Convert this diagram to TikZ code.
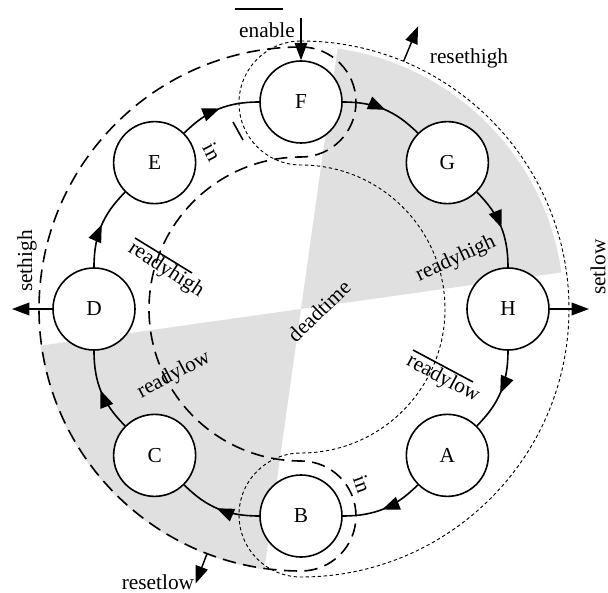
\documentclass[tikz,border=0pt]{standalone}
\usepackage{fontspec}
\setmainfont{Liberation Serif}
\usetikzlibrary{arrows.meta,decorations.markings}
\definecolor{panelgray}{gray}{0.88}
\tikzset{
  state/.style={circle, draw, fill=white, line width=1.2pt, minimum size=61.5pt,
    inner sep=0pt, font=\fontsize{16}{19}\selectfont},
  trans/.style={line width=1.2pt, bend left=22.5, postaction={decorate},
    decoration={markings, mark=at position 0.52 with {\arrow{Triangle[length=13pt,width=10pt]}}}},
  longdash/.style={line width=1.2pt, dash pattern=on 10pt off 5.5pt},
  shortdash/.style={line width=0.7pt, dash pattern=on 2.5pt off 2pt},
  signal/.style={line width=1.1pt, -{Triangle[length=13pt,width=9.5pt]}},
  lbl/.style={font=\fontsize{16}{19}\selectfont, inner sep=0pt},
  bar/.style={line width=1.2pt},
}
\begin{document}
\begin{tikzpicture}[x=0.75pt,y=0.75pt]
\useasboundingbox (-301,-284) rectangle (307,309);

% shaded quadrants
\fill[panelgray] (0,0) -- (8:263) arc[start angle=8,end angle=82,radius=263] -- cycle;
\fill[panelgray] (0,0) -- (188:263) arc[start angle=188,end angle=262,radius=263] -- cycle;

% left region (long dashes), capped around F and B
\draw[longdash] (0,262) arc[start angle=90,end angle=270,radius=262]
  arc[start angle=-90,end angle=90,radius=55]
  arc[start angle=270,end angle=90,radius=152]
  arc[start angle=-90,end angle=90,radius=55] -- cycle;

% right region (short dashes), capped around F and B
\draw[shortdash] (0,268) arc[start angle=90,end angle=-90,radius=268]
  arc[start angle=270,end angle=90,radius=62]
  arc[start angle=-90,end angle=90,radius=144]
  arc[start angle=270,end angle=90,radius=62] -- cycle;

% states on the ring
\node[state] (F) at (90:207) {F};
\node[state] (G) at (45:207) {G};
\node[state] (H) at (0:207) {H};
\node[state] (A) at (-45:207) {A};
\node[state] (B) at (-90:207) {B};
\node[state] (C) at (-135:207) {C};
\node[state] (D) at (180:207) {D};
\node[state] (E) at (135:207) {E};

% transitions, clockwise
\draw[trans] (F) to (G);
\draw[trans] (G) to (H);
\draw[trans] (H) to (A);
\draw[trans] (A) to (B);
\draw[trans] (B) to (C);
\draw[trans] (C) to (D);
\draw[trans] (D) to (E);
\draw[trans] (E) to (F);

% enable input
\coordinate (enin) at (0,291);
\draw[signal] (enin) -- (F);
\node[lbl] (enable) at (-34,279) {enable};
\draw[bar] (-66,300) -- (-18,300);

% outputs
\coordinate (rhs) at (67.5:268);
\coordinate (rhe) at (67.5:306);
\draw[signal] (rhs) -- (rhe);
\node[lbl] (resethigh) at (168,251) {resethigh};

\coordinate (slend) at (288,0);
\draw[signal] (H) -- (slend);
\node[lbl, rotate=90] (setlow) at (297,42) {setlow};

\coordinate (shend) at (-289,0);
\draw[signal] (D) -- (shend);
\node[lbl, rotate=90] (sethigh) at (-274,48) {sethigh};

\coordinate (rls) at (249:262);
\coordinate (rle) at (249:294);
\draw[signal] (rls) -- (rle);
\node[lbl] (resetlow) at (-143,-273) {resetlow};

% transition conditions
\node[lbl, rotate=-33] (rhbar) at (-135,39) {readyhigh};
\draw[bar] (-166,71) -- (-109,36);
\node[lbl, rotate=28] (rlleft) at (-127,-66) {readylow};
\node[lbl, rotate=25] (rhright) at (155,50) {readyhigh};
\node[lbl, rotate=-28] (rlbar) at (142,-70) {readylow};
\draw[bar] (112,-41) -- (172,-73);
\node[lbl, rotate=-62] (inbar) at (-89,157) {in};
\draw[bar] (-68,187) -- (-58,169);
\node[lbl, rotate=-70] (inlbl) at (61,-175) {in};
\node[lbl, rotate=44] (deadtime) at (18,-2) {deadtime};
\end{tikzpicture}
\end{document}
